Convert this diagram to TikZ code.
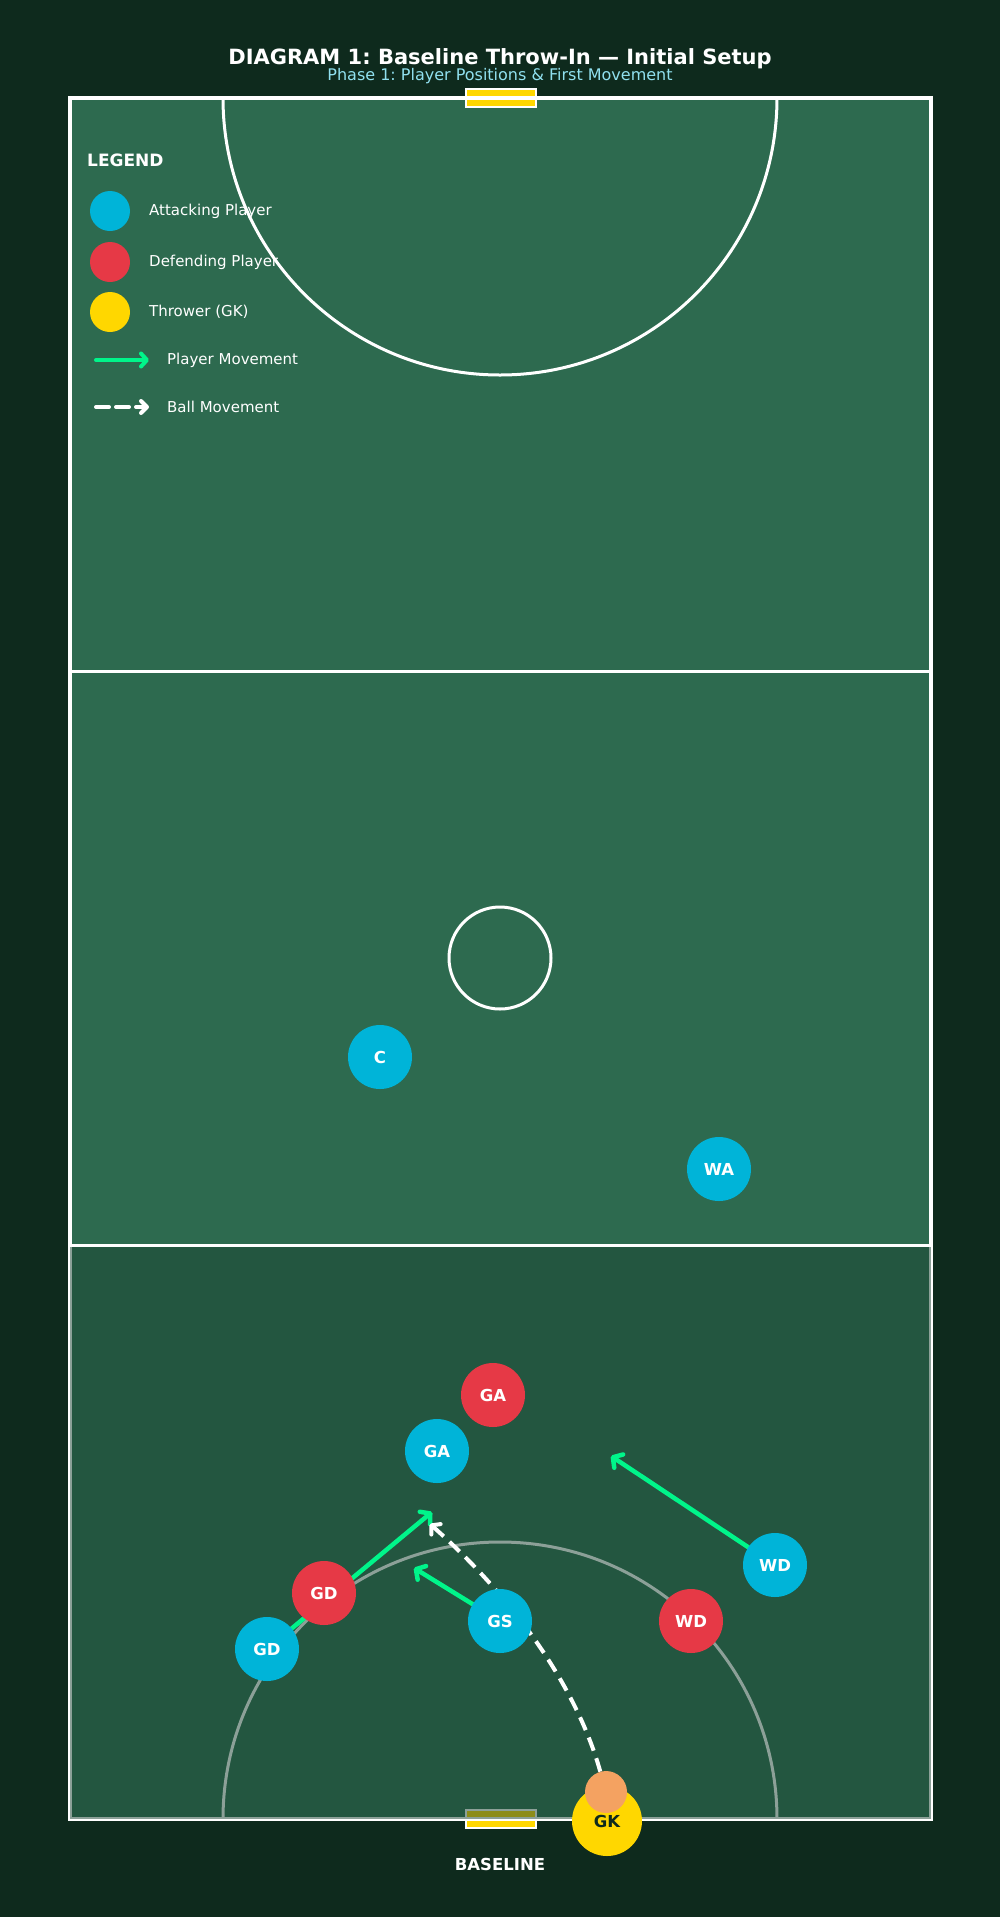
\documentclass[tikz,border=0pt]{standalone}
\usepackage{fontspec}
\setmainfont{DejaVu Sans}
\usetikzlibrary{arrows.meta}
\frenchspacing
\definecolor{bgc}{HTML}{0E2A1D}
\definecolor{courtc}{HTML}{2D6A4F}
\definecolor{zonec}{HTML}{1B4332}
\definecolor{attc}{HTML}{00B4D8}
\definecolor{defc}{HTML}{E63946}
\definecolor{gkc}{HTML}{FFD700}
\definecolor{ballc}{HTML}{F4A261}
\definecolor{movec}{HTML}{00F58A}
\definecolor{subc}{HTML}{90E0EF}
\definecolor{gktext}{HTML}{0E2A1D}
\pgfdeclarelayer{courtlayer}
\pgfdeclarelayer{movelayer}
\pgfsetlayers{courtlayer,movelayer,main}
\begin{document}
\begin{tikzpicture}[x=1pt,y=-1pt,
  player/.style={circle, minimum size=64pt, inner sep=0pt, text=white, font=\fontsize{16.5}{18}\selectfont\bfseries},
  attack/.style={player, fill=attc},
  defend/.style={player, fill=defc},
  legdot/.style={circle, minimum size=40pt, inner sep=0pt},
  legtext/.style={anchor=west, text=white, inner sep=0pt, font=\fontsize{15}{18}\selectfont},
  courtline/.style={draw=white, line width=3pt},
  goalbox/.style={draw=white, line width=2pt, fill=gkc},
  move/.style={draw=movec, line width=4.5pt, line cap=round, -{Straight Barb[length=7pt,width=16pt,round]}},
  ballpath/.style={draw=white, line width=4pt, dash pattern=on 14pt off 8pt, -{Straight Barb[length=6pt,width=14pt,round]}},
  legmove/.style={draw=movec, line width=4pt, line cap=round, -{Straight Barb[length=6pt,width=13pt,round]}},
  legball/.style={draw=white, line width=4pt, line cap=round, dash pattern=on 13pt off 7pt, -{Straight Barb[length=6pt,width=12pt,round]}}
]
\begin{pgfonlayer}{courtlayer}
\fill[bgc] (0,0) rectangle (1000,1917);
\useasboundingbox (0,0) rectangle (1000,1917);
\fill[courtc] (70,98) rectangle (931,1819);
\draw[courtline] (500,958) circle[radius=51];
\draw[courtline] (223,98) arc[start angle=180, end angle=0, radius=277];
\draw[courtline] (223,1819) arc[start angle=180, end angle=360, radius=277];
\draw[goalbox] (466,89) rectangle (536,107);
\draw[goalbox] (466,1810) rectangle (536,1828);
\draw[draw=white, line width=4pt] (70,98) rectangle (931,1819);
\draw[courtline] (70,671.7) -- (931,671.7);
\fill[zonec, opacity=0.5] (70,1245.3) rectangle (931,1819);
\draw[courtline] (70,1245.3) -- (931,1245.3);
\end{pgfonlayer}

% titles
\node[text=white, font=\fontsize{21}{25}\selectfont\bfseries] (title) at (500,59) {DIAGRAM 1: Baseline Throw-In — Initial Setup};
\node[text=subc, font=\fontsize{16}{19}\selectfont] (subtitle) at (500,76) {Phase 1: Player Positions \& First Movement};
\node[text=white, font=\fontsize{16.5}{19}\selectfont\bfseries] (baseline) at (500,1864) {BASELINE};

% legend
\node[anchor=west, text=white, inner sep=0pt, font=\fontsize{17}{20}\selectfont\bfseries] (legend) at (87,160) {LEGEND};
\node[legdot, fill=attc] (legA) at (110,211) {};
\node[legtext] (legAt) at (149,211) {Attacking Player};
\node[legdot, fill=defc] (legD) at (110,262) {};
\node[legtext] (legDt) at (149,262) {Defending Player};
\node[legdot, fill=gkc] (legT) at (110,312) {};
\node[legtext] (legTt) at (149,312) {Thrower (GK)};
\coordinate (lm1) at (96,360);
\coordinate (lm2) at (149,360);
\draw[legmove] (lm1) -- (lm2);
\node[legtext] (legMt) at (167,360) {Player Movement};
\coordinate (lb1) at (96,407);
\coordinate (lb2) at (149,407);
\draw[legball] (lb1) -- (lb2);
\node[legtext] (legBt) at (167,407) {Ball Movement};

% players
\node[attack] (cA) at (380,1057) {C};
\node[attack] (waA) at (719,1169) {WA};
\node[defend] (gaD) at (493,1395) {GA};
\node[attack] (gaA) at (437,1451) {GA};
\node[attack] (wdA) at (775,1565) {WD};
\node[attack] (gdA) at (267,1649) {GD};
\node[defend] (gdD) at (324,1593) {GD};
\node[attack] (gsA) at (500,1621) {GS};
\node[defend] (wdD) at (691,1621) {WD};
\node[circle, minimum size=70pt, inner sep=0pt, fill=gkc, text=gktext, font=\fontsize{16.5}{18}\selectfont\bfseries] (gk) at (607,1821) {GK};
\node[circle, minimum size=42pt, inner sep=0pt, fill=ballc] (ball) at (606,1792) {};

% movements
\coordinate (gdTip) at (432,1512);
\coordinate (gsTip) at (414,1568);
\coordinate (wdTip) at (611,1456);
\coordinate (ballTip) at (430,1524);
\begin{pgfonlayer}{movelayer}
\draw[move] (gdA) -- (gdTip);
\draw[move] (gsA) -- (gsTip);
\draw[move] (wdA) -- (wdTip);
\draw[ballpath] (ball) .. controls (578,1692) and (519,1603) .. (ballTip);
\end{pgfonlayer}
\end{tikzpicture}
\end{document}
